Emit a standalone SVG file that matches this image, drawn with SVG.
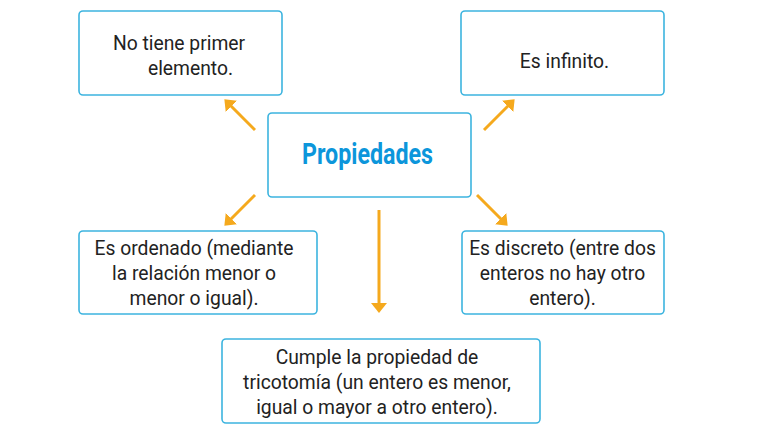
<svg xmlns="http://www.w3.org/2000/svg" width="770" height="434" viewBox="0 0 770 434">
<style>
.box{fill:#fff;stroke:#3CB4DF;stroke-width:1.6}
.t{font-family:Roboto,"Noto Sans",sans-serif;font-size:19.3px;fill:#222;text-anchor:middle}
.title{font-family:Roboto,"Noto Sans",sans-serif;font-weight:bold;font-size:30px;fill:#0C96DB}
.arr{stroke:#F5A91D;stroke-width:3;fill:none;marker-end:url(#ah)}
</style>
<defs>
<marker id="ah" viewBox="0 0 10 16" refX="2" refY="8" markerWidth="10" markerHeight="16" markerUnits="userSpaceOnUse" orient="auto">
<path d="M0,0 L10,8 L0,16 z" fill="#F5A91D"/>
</marker>
</defs>
<rect width="770" height="434" fill="#fff"/>
<g id="connectors">
<line class="arr" x1="255" y1="130" x2="230" y2="105"/>
<line class="arr" x1="484" y1="130" x2="509" y2="105"/>
<line class="arr" x1="255" y1="195" x2="230" y2="220"/>
<line class="arr" x1="477" y1="195" x2="502" y2="220"/>
<line class="arr" x1="379" y1="210" x2="379" y2="305"/>
</g>
<g id="center">
<rect class="box" x="268" y="113" width="203" height="84" rx="4"/>
<text class="title" x="302" y="164" textLength="131" lengthAdjust="spacingAndGlyphs">Propiedades</text>
</g>
<g id="top-left">
<rect class="box" x="79" y="11" width="203" height="84" rx="4"/>
<text class="t" x="179" y="50">No tiene primer</text>
<text class="t" x="190.5" y="75">elemento.</text>
</g>
<g id="top-right">
<rect class="box" x="461" y="11" width="203" height="84" rx="4"/>
<text class="t" x="564.5" y="68">Es infinito.</text>
</g>
<g id="bottom-left">
<rect class="box" x="79" y="231" width="238" height="83" rx="4"/>
<text class="t" x="194" y="255">Es ordenado (mediante</text>
<text class="t" x="194" y="280">la relación menor o</text>
<text class="t" x="194" y="305">menor o igual).</text>
</g>
<g id="bottom-right">
<rect class="box" x="462" y="231" width="202" height="83" rx="4"/>
<text class="t" x="562.5" y="255">Es discreto (entre dos</text>
<text class="t" x="562.5" y="280">enteros no hay otro</text>
<text class="t" x="562.5" y="305">entero).</text>
</g>
<g id="bottom-center">
<rect class="box" x="222" y="339" width="318" height="84" rx="4"/>
<text class="t" x="377" y="364">Cumple la propiedad de</text>
<text class="t" x="377" y="389">tricotomía (un entero es menor,</text>
<text class="t" x="377" y="414">igual o mayor a otro entero).</text>
</g>
</svg>
